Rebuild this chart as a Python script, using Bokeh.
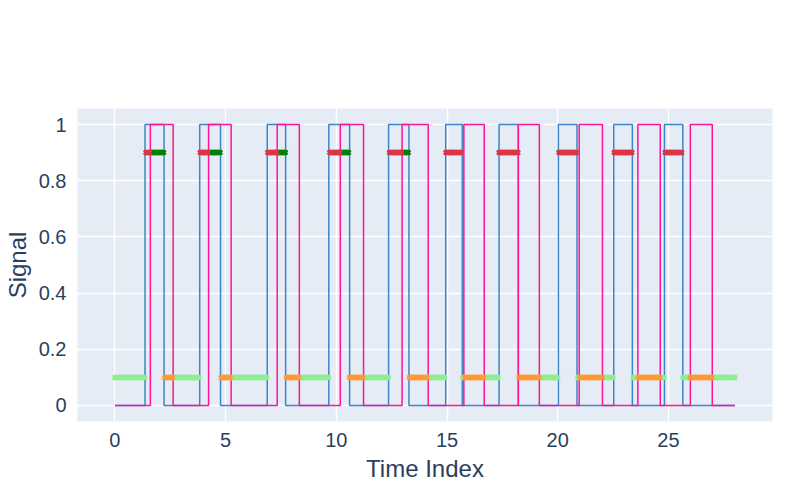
import numpy as np
from bokeh.plotting import figure
from bokeh.models import Legend, LegendItem, Range1d, FixedTicker
from bokeh.embed import file_html
from bokeh.resources import INLINE

# pulse edges (time index)
label_rise = [1.36, 3.83, 6.88, 9.66, 12.36, 14.94, 17.35, 20.03, 22.53, 24.82]
label_fall = [2.22, 4.77, 7.71, 10.60, 13.28, 15.69, 18.22, 20.87, 23.37, 25.65]
model_rise = [1.60, 4.23, 7.33, 10.18, 12.97, 15.76, 18.22, 20.97, 23.62, 25.99]
model_fall = [2.63, 5.25, 8.33, 11.23, 14.15, 16.68, 19.17, 22.02, 24.63, 26.98]
t_end = 28.0
t_step = 0.05

def step_xy(rise, fall):
    xs, ys = [0.0], [0]
    for r, f in zip(rise, fall):
        xs += [r, f]
        ys += [1, 0]
    xs.append(t_end)
    ys.append(0)
    return xs, ys

def level(t, rise, fall):
    return np.any([(t >= r) & (t < f) for r, f in zip(rise, fall)], axis=0)

t = np.arange(0, t_end + t_step / 2, t_step)
lab = level(t, label_rise, label_fall)
mod = level(t, model_rise, model_fall)

FONT = "Liberation Sans"
TXT = "#2a3f5f"

p = figure(width=784, height=484, output_backend="svg", toolbar_location=None,
           x_range=Range1d(-1.69, 29.7), y_range=Range1d(-0.057, 1.057))
p.background_fill_color = "#E5ECF6"
p.border_fill_color = "white"
p.outline_line_color = None
p.min_border_left = 65
p.min_border_right = 12
p.min_border_bottom = 61
p.min_border_top = 108

lx, ly = step_xy(label_rise, label_fall)
mx, my = step_xy(model_rise, model_fall)
r_lab = p.step(lx, ly, mode="after", line_color="#3d85c6", line_width=1.5)
r_mod = p.step(mx, my, mode="after", line_color="#FF1493", line_width=1.5)

def marks(mask, y, color):
    return p.scatter(t[mask], np.full(mask.sum(), y), marker="x", size=6,
                     line_width=2.5, line_color=color)

r_tp = marks(lab & mod, 0.9, "#008000")
r_tn = marks(~lab & ~mod, 0.1, "#90EE90")
r_fp = marks(~lab & mod, 0.1, "#FF9933")
r_fn = marks(lab & ~mod, 0.9, "#DC3545")

p.xaxis.ticker = FixedTicker(ticks=[0, 5, 10, 15, 20, 25])
p.yaxis.ticker = FixedTicker(ticks=[0, 0.2, 0.4, 0.6, 0.8, 1])
p.xaxis.axis_label = "Time Index"
p.yaxis.axis_label = "Signal"
for ax in (p.xaxis[0], p.yaxis[0]):
    ax.axis_line_color = None
    ax.major_tick_line_color = None
    ax.minor_tick_line_color = None
    ax.major_label_text_font = FONT
    ax.major_label_text_font_size = "20px"
    ax.major_label_text_color = TXT
    ax.axis_label_text_font = FONT
    ax.axis_label_text_font_size = "24px"
    ax.axis_label_text_font_style = "normal"
    ax.axis_label_text_color = TXT
p.grid.grid_line_color = "white"
p.grid.grid_line_width = 1.5

legend = Legend(items=[
    LegendItem(label="label", renderers=[r_lab]),
    LegendItem(label="Model Output(Contact Detection)", renderers=[r_mod]),
    LegendItem(label="TP", renderers=[r_tp]),
    LegendItem(label="TN", renderers=[r_tn]),
    LegendItem(label="FP", renderers=[r_fp]),
    LegendItem(label="FN", renderers=[r_fn]),
], orientation="horizontal", location=(-2, 322))
legend.label_text_font = FONT
legend.label_text_font_size = "20px"
legend.label_text_color = TXT
legend.border_line_color = None
legend.background_fill_alpha = 0
legend.spacing = 22
legend.glyph_width = 30
legend.label_standoff = 5
legend.margin = 0
legend.padding = 4
p.add_layout(legend, "center")

open("out.html", "w").write(file_html(p, INLINE))
